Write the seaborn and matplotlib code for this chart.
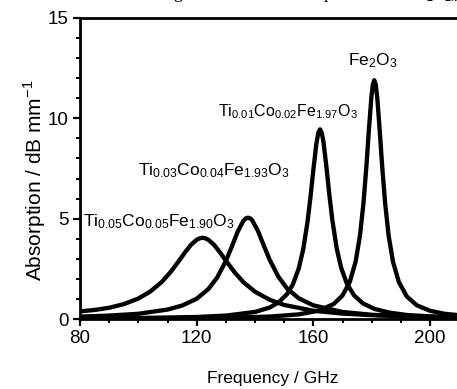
import pandas as pd
import seaborn as sns
import matplotlib.pyplot as plt
from matplotlib.ticker import MultipleLocator

# absorption curves (frequency in GHz, absorption in dB/mm)
freq_a = [80, 85, 90, 95, 100, 104, 108, 111, 114, 116, 118, 120, 121, 122, 123, 124,
          126, 128, 130, 133, 136, 140, 145, 150, 160, 170, 180, 190, 200, 212]
abs_a = [0.38, 0.45, 0.56, 0.74, 1.02, 1.36, 1.84, 2.33, 2.91, 3.32, 3.69, 3.95, 4.02, 4.05, 4.02, 3.95,
         3.69, 3.32, 2.91, 2.33, 1.84, 1.36, 0.96, 0.70, 0.41, 0.27, 0.19, 0.14, 0.11, 0.08]

freq_b = [80, 90, 100, 110, 115, 120, 124, 127, 130, 132, 134, 136, 136.8, 137.6, 138.4, 139,
          141, 143, 145, 148, 151, 155, 160, 170, 180, 190, 200, 212]
abs_b = [0.12, 0.17, 0.26, 0.47, 0.67, 1.01, 1.49, 2.06, 2.89, 3.59, 4.33, 4.89, 5.01, 5.05, 5.01, 4.93,
         4.39, 3.67, 2.96, 2.11, 1.52, 1.03, 0.68, 0.35, 0.21, 0.14, 0.10, 0.07]

freq_c = [80, 100, 120, 130, 140, 145, 148, 151, 153, 155, 156.5, 158, 159, 160, 161, 161.7, 162.3,
          162.9, 163.5, 164.5, 165.5, 166.5, 168, 169.5, 171.5, 174, 177, 181, 186, 192, 200, 212]
abs_c = [0.03, 0.05, 0.10, 0.17, 0.35, 0.57, 0.82, 1.24, 1.73, 2.52, 3.45, 4.83, 6.05, 7.42, 8.69, 9.28, 9.45,
         9.28, 8.80, 7.56, 6.18, 4.95, 3.53, 2.57, 1.76, 1.17, 0.78, 0.50, 0.32, 0.20, 0.13, 0.07]

freq_d = [80, 110, 130, 145, 155, 162, 167, 170, 172.5, 174.5, 176, 177.2, 178.2, 179.1, 179.9, 180.4,
          180.9, 181.4, 181.9, 182.7, 183.6, 184.6, 185.8, 187.3, 189.3, 192, 195.5, 200, 205, 212]
abs_d = [0.02, 0.03, 0.06, 0.12, 0.23, 0.42, 0.75, 1.17, 1.85, 2.86, 4.17, 5.79, 7.62, 9.52, 11.05, 11.68,
         11.90, 11.68, 11.05, 9.52, 7.62, 5.79, 4.17, 2.86, 1.85, 1.13, 0.68, 0.41, 0.26, 0.16]

labels = [r'$\mathregular{Ti_{0.05}Co_{0.05}Fe_{1.90}O_3}$',
          r'$\mathregular{Ti_{0.03}Co_{0.04}Fe_{1.93}O_3}$',
          r'$\mathregular{Ti_{0.01}Co_{0.02}Fe_{1.97}O_3}$',
          r'$\mathregular{Fe_2O_3}$']
label_x = [81.0, 100.0, 127.4, 171.9]
label_y = [4.63, 7.17, 10.11, 12.66]
label_size = [12.5, 12.5, 11.5, 12.5]

frames = []
for name, f, a in zip(labels, [freq_a, freq_b, freq_c, freq_d], [abs_a, abs_b, abs_c, abs_d]):
    frames.append(pd.DataFrame({'freq': f, 'absorption': a, 'sample': name}))
df = pd.concat(frames, ignore_index=True)

sns.set_theme(style='ticks')
plt.rcParams['font.family'] = ['Liberation Sans', 'DejaVu Sans']
plt.rcParams['mathtext.fontset'] = 'custom'
plt.rcParams['mathtext.rm'] = 'Liberation Sans'
for key in ['text.color', 'axes.labelcolor', 'xtick.color', 'ytick.color', 'axes.edgecolor']:
    plt.rcParams[key] = 'black'

fig = plt.figure(figsize=(4.57, 3.89), dpi=100)
ax = fig.add_axes([80 / 457, 1 - 319 / 389, 385 / 457, 301 / 389])

for name in labels:
    sns.lineplot(data=df[df['sample'] == name], x='freq', y='absorption', color='black',
                 linewidth=3.1, estimator=None, sort=False, ax=ax)

for txt, x, y, s in zip(labels, label_x, label_y, label_size):
    ax.text(x, y, txt, fontsize=s, ha='left', va='baseline')

ax.set_xlim(80, 212)
ax.set_ylim(0, 15)
ax.xaxis.set_major_locator(MultipleLocator(40))
ax.xaxis.set_minor_locator(MultipleLocator(10))
ax.yaxis.set_major_locator(MultipleLocator(5))
ax.yaxis.set_minor_locator(MultipleLocator(1))
ax.tick_params(which='major', direction='out', length=5, width=1.6, labelsize=13.5, pad=3)
ax.tick_params(which='minor', direction='out', length=3, width=1.4)

for side in ['left', 'bottom', 'top']:
    ax.spines[side].set_linewidth(2)
ax.spines['right'].set_visible(False)

ax.set_xlabel('Frequency / GHz', fontsize=12.5, labelpad=17)
ax.set_ylabel(r'Absorption / dB mm$^{\mathregular{-1}}$', fontsize=15)
ax.yaxis.set_label_coords(-0.082, 0.462)

# title of the original figure, cut off by the crop
fig.text(150 / 457, 1 + 2 / 389, r'Magnetic resonant absorption of the Fe$_{\mathregular{2-2x}}$(',
         fontsize=12.7, family='Liberation Serif', ha='left', va='baseline')

fig.savefig('out.png', dpi=100)
